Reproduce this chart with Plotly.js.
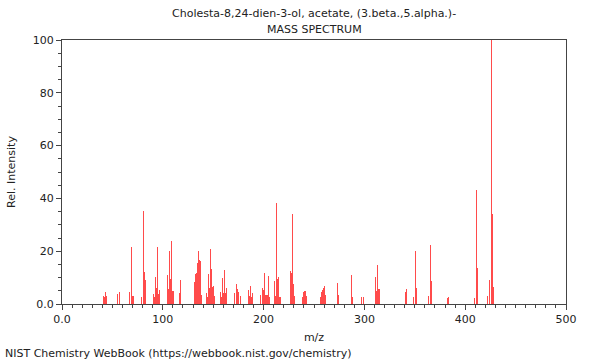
<!DOCTYPE html>
<html>
<head>
<meta charset="utf-8">
<script src="https://cdn.plot.ly/plotly-3.0.1.min.js"></script>
<style>html,body{margin:0;padding:0;background:#fff;}#chart{width:600px;height:360px;}</style>
</head>
<body>
<div id="chart"></div>
<script>
const mz = [41,42,43,44,55,57,67,69,70,71,79,81,82,83,91,92,93,94,95,96,97,
  105,106,107,108,109,110,111,117,118,119,120,121,122,123,124,
  131,132,133,134,135,136,137,138,143,144,145,146,147,148,149,150,151,
  157,158,159,160,161,162,163,171,173,174,175,177,185,186,187,188,189,
  197,199,200,201,202,203,204,205,206,211,212,213,214,215,216,217,
  227,228,229,230,231,239,240,241,242,243,244,250,251,252,253,255,256,257,258,259,260,261,
  273,274,287,288,297,299,311,312,313,314,315,341,342,349,351,352,364,366,367,
  382,383,409,411,412,422,424,426,427,428];
const intensity = [3,2.5,4.6,3,3.8,4.4,4.4,21.6,3,3,2.7,35.2,12.2,9.1,3.9,2.7,10.1,6.2,21.6,3.7,5.3,
  11,5.7,20,9.3,24,5,5,4,9,15.6,17,16,12.2,3,3,
  8.5,11.2,11.6,15.7,20,16.7,16.4,3.4,4,2.5,11.2,5.9,20.7,13.3,6.4,7,3,
  4.5,2.8,9.7,4,12.7,4,6,4.2,7.4,5.8,4.5,3,5.3,3,7,2.8,4,
  3.4,6,5.3,11.6,3.6,3.6,3.6,10.6,2.8,8.7,3,38.1,9.3,10.4,2.8,2.8,
  12.6,11.9,34.1,7.4,3,2.6,4.6,5,5,3.2,3.2,3.2,3,6.1,6.1,9.7,2.8,4.7,5.3,6.1,6.9,3.5,
  7.8,3.5,11,2.8,2.7,2.7,10.1,5,14.8,5.5,5.5,4.6,5.6,2.7,20.2,6.2,3,22.2,8.7,
  2.4,2.6,2.4,43.2,13.8,3.1,9.1,100,34.2,6.6];
const xTickVals = [0,100,200,300,400,500];
const xTickText = ["0.0","100","200","300","400","500"];
const yTickVals = [0,20,40,60,80,100];
const yTickText = ["0.0","20","40","60","80","100"];
const titleLines = ["Cholesta-8,24-dien-3-ol, acetate, (3.beta.,5.alpha.)-", "MASS SPECTRUM"];

const font = {family: "DejaVu Sans, sans-serif", size: 11, color: "#222"};
const trace = {
  type: "bar", x: mz, y: intensity, width: 0.9,
  marker: {color: "rgba(255,30,30,0.8)", line: {width: 0}},
  hoverinfo: "x+y"
};
const layout = {
  width: 600, height: 360,
  margin: {l: 62, r: 34, t: 40, b: 56},
  paper_bgcolor: "#fff", plot_bgcolor: "#fff",
  font: font,
  showlegend: false,
  bargap: 0,
  xaxis: {
    range: [0, 500], showgrid: false, zeroline: false,
    showline: true, linecolor: "#444", linewidth: 1, mirror: true,
    ticks: "outside", ticklen: 5, tickcolor: "#444",
    tickmode: "array", tickvals: xTickVals, ticktext: xTickText,
    minor: {tickmode: "linear", tick0: 0, dtick: 10, ticks: "outside", ticklen: 3, tickcolor: "#444"},
    title: {text: "m/z", font: font, standoff: 8},
    tickfont: font
  },
  yaxis: {
    range: [0, 100], showgrid: false, zeroline: false,
    showline: true, linecolor: "#444", linewidth: 1, mirror: true,
    ticks: "outside", ticklen: 5, tickcolor: "#444",
    tickmode: "array", tickvals: yTickVals, ticktext: yTickText,
    minor: {tickmode: "linear", tick0: 0, dtick: 5, ticks: "outside", ticklen: 3, tickcolor: "#444"},
    title: {text: "Rel. Intensity", font: font, standoff: 14},
    tickfont: font
  },
  annotations: [
    {text: titleLines[0], xref: "paper", yref: "paper", x: 0.5, y: 1.102,
     xanchor: "center", yanchor: "middle", showarrow: false, font: font},
    {text: titleLines[1], xref: "paper", yref: "paper", x: 0.5, y: 1.038,
     xanchor: "center", yanchor: "middle", showarrow: false, font: font},
    {text: "NIST Chemistry WebBook (https://webbook.nist.gov/chemistry)",
     xref: "paper", yref: "paper", x: -0.117, y: -0.186,
     xanchor: "left", yanchor: "middle", showarrow: false, font: font}
  ]
};
Plotly.newPlot("chart", [trace], layout, {displayModeBar: false, staticPlot: true});
</script>
</body>
</html>
